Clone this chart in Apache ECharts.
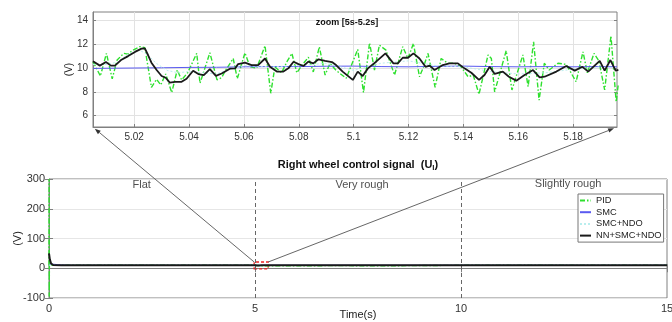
<!DOCTYPE html>
<html><head><meta charset="utf-8">
<script src="https://cdn.jsdelivr.net/npm/echarts@6/dist/echarts.min.js"></script>
<style>html,body{margin:0;padding:0;background:#fff}#c{width:672px;height:322px}</style>
</head><body><div id="c"></div>
<script>
// ---------------- data ----------------
const seriesNames = ['PID', 'SMC', 'SMC+NDO', 'NN+SMC+NDO'];
const mainTitle = 'Right wheel control signal  (U';
const mainTitleSub = 'l';
const insetTitle = 'zoom [5s-5.2s]';
const xName = 'Time(s)';
const yName = '(V)';
const regionNames = ['Flat', 'Very rough', 'Slightly rough'];
const regionX = [2.25, 7.6, 12.6];
const regionY = [280, 280, 282];
const separators = [5, 10];
const zoomRect = [4.98, -2, 5.32, 21];      // x0, y0, x1, y1 (data units)
const insetXTicks = [5.02, 5.04, 5.06, 5.08, 5.1, 5.12, 5.14, 5.16, 5.18];
const insetYTicks = [6, 8, 10, 12, 14];
const insetXRange = [5.005, 5.196];
const insetYRange = [5.05, 14.7];

// zoomed window values [t, V]
const pidZoom = [[5.005,10.53],[5.0077,9.33],[5.0099,11.23],[5.012,9.1],[5.0138,10.67],[5.0162,11.23],[5.0177,11.17],[5.0196,11.5],[5.0221,11.79],[5.0239,11.7],[5.0263,8.38],[5.0282,9.05],[5.0297,8.58],[5.0315,9.5],[5.0337,7.94],[5.0357,9.83],[5.0373,9.0],[5.0395,9.6],[5.0428,11.23],[5.044,8.72],[5.0476,11.28],[5.0502,9.0],[5.0519,9.2],[5.0536,9.9],[5.0561,10.8],[5.0576,9.1],[5.0604,11.28],[5.0622,10.1],[5.0647,10.0],[5.0677,11.87],[5.0698,7.88],[5.0713,10.1],[5.0737,9.6],[5.0757,10.53],[5.0775,11.23],[5.0793,9.6],[5.0812,10.25],[5.0835,10.9],[5.0853,9.67],[5.0875,11.78],[5.0896,9.41],[5.0914,10.4],[5.0936,9.8],[5.0973,9.14],[5.1015,11.56],[5.1036,7.94],[5.1058,12.12],[5.1076,9.83],[5.1094,11.92],[5.1118,11.5],[5.1149,9.41],[5.1179,11.79],[5.1198,10.8],[5.1218,12.06],[5.124,9.27],[5.1255,10.1],[5.1271,11.23],[5.1297,8.38],[5.1319,10.8],[5.1344,10.39],[5.1368,10.4],[5.1392,10.1],[5.1417,9.27],[5.1436,9.4],[5.1457,7.8],[5.149,11.1],[5.1502,10.8],[5.1514,8.0],[5.1556,11.45],[5.1577,8.16],[5.1617,11.1],[5.1636,8.44],[5.1656,12.2],[5.1676,7.3],[5.1695,10.4],[5.1713,9.83],[5.1745,10.4],[5.1775,10.3],[5.1811,8.85],[5.1836,11.36],[5.1852,9.6],[5.1876,11.23],[5.1894,10.6],[5.1915,8.16],[5.1938,12.7],[5.1957,7.15],[5.1965,8.7]];
const smcZoom = [[5.005,9.97],[5.02,10.0],[5.03,10.02],[5.04,10.05],[5.05,10.06],[5.06,10.1],[5.07,10.12],[5.08,10.12],[5.09,10.15],[5.1,10.16],[5.11,10.12],[5.12,10.1],[5.13,10.14],[5.14,10.16],[5.15,10.12],[5.16,10.1],[5.17,10.12],[5.18,10.1],[5.19,10.12],[5.196,10.1]];
const smcNdoZoom = [[5.005,10.3],[5.01,10.3],[5.014,10.5],[5.018,11.2],[5.022,11.5],[5.025,11.1],[5.028,10.4],[5.032,9.8],[5.036,9.6],[5.04,9.7],[5.045,9.6],[5.05,9.5],[5.055,9.9],[5.06,10.2],[5.07,10.1],[5.08,10.2],[5.09,10.4],[5.1,9.8],[5.11,10.4],[5.12,10.6],[5.13,10.2],[5.14,10.1],[5.15,9.7],[5.16,9.5],[5.17,9.6],[5.18,9.9],[5.19,10.1],[5.196,10.0]];
const nnZoom = [[5.005,10.57],[5.0075,10.2],[5.0097,10.5],[5.0115,10.2],[5.013,10.2],[5.0154,10.7],[5.0178,11.0],[5.0203,11.35],[5.0227,11.63],[5.0239,11.65],[5.0251,11.07],[5.0263,10.45],[5.0282,9.83],[5.03,9.33],[5.0315,9.18],[5.033,8.77],[5.0349,8.84],[5.0373,8.84],[5.0391,9.1],[5.0415,9.77],[5.0434,9.49],[5.0454,9.4],[5.0476,9.9],[5.0498,9.34],[5.0519,9.54],[5.0549,9.94],[5.0568,9.97],[5.0579,10.33],[5.0604,10.45],[5.0628,10.25],[5.0652,10.25],[5.0677,10.8],[5.0695,10.1],[5.072,9.7],[5.0744,9.7],[5.0762,9.97],[5.0781,10.53],[5.0799,10.33],[5.0817,10.17],[5.0835,10.53],[5.0853,10.39],[5.0872,10.73],[5.0896,10.59],[5.0921,10.5],[5.0936,10.25],[5.096,9.7],[5.0997,9.0],[5.1015,9.7],[5.1033,9.33],[5.1052,9.97],[5.1082,10.53],[5.1116,11.23],[5.1145,10.39],[5.1161,10.39],[5.1179,10.86],[5.1198,10.86],[5.1218,11.23],[5.124,10.8],[5.1262,10.1],[5.1277,10.2],[5.1295,9.83],[5.1325,10.25],[5.1349,10.39],[5.138,10.39],[5.1404,9.97],[5.1429,9.6],[5.1457,9.0],[5.1477,9.41],[5.1496,10.1],[5.1514,9.5],[5.1544,9.7],[5.1566,9.27],[5.1593,8.94],[5.1623,9.41],[5.1654,9.83],[5.1678,9.22],[5.1696,9.27],[5.1739,9.7],[5.1775,10.17],[5.1806,9.78],[5.1834,10.1],[5.1855,9.7],[5.1897,10.6],[5.1915,9.78],[5.1936,10.67],[5.1955,9.78],[5.1965,9.85]];

// full-run values outside the zoomed window
const pidStart = [[0,10],[0.003,300],[0.006,-95],[0.01,30],[0.02,10],[1,10],[3,10],[5.0,10]];
const pidEnd = [[5.21,10],[6,8],[7,9],[8,8],[9,9],[10,10],[12,10],[15,10]];
const smcStart = [[0,10],[0.05,14],[0.15,13],[0.3,11],[0.5,10],[5.0,10]];
const smcEnd = [[5.21,10.1],[10,10.1],[15,10.1]];
const smcNdoStart = [[0,10],[0.05,12],[0.2,10],[5.0,10]];
const smcNdoEnd = [[5.21,10],[10,10],[15,10]];
const nnStart = [[0,50],[0.02,30],[0.05,16],[0.1,11],[0.3,10],[5.0,10]];
const nnEnd = [[5.21,10],[10,10],[15,10]];

// ---------------- chart ----------------
const FONT = "'Liberation Sans', Arial, sans-serif";
const colors = ['#2ee02e', '#5a5af0', '#b9eeee', '#1a1a1a'];
const widths = [1.4, 1, 1, 1.8];
const types = [[5, 2, 1.5, 2], 'solid', [2, 2], 'solid'];
const zoomData = [pidZoom, smcZoom, smcNdoZoom, nnZoom];
const mainData = [
  pidStart.concat(pidZoom, pidEnd),
  smcStart.concat(smcZoom, smcEnd),
  smcNdoStart.concat(smcNdoZoom, smcNdoEnd),
  nnStart.concat(nnZoom, nnEnd)
];

const chart = echarts.init(document.getElementById('c'), null, { renderer: 'canvas' });
const axisCol = '#808080';
const labelStyle = { color: '#333', fontFamily: FONT };

const series = [];
seriesNames.forEach((n, i) => {
  series.push({
    name: n, type: 'line', xAxisIndex: 0, yAxisIndex: 0, symbol: 'none', silent: true,
    data: mainData[i], animation: false,
    lineStyle: { color: colors[i], width: i === 3 ? 2 : widths[i], type: types[i] },
    itemStyle: { color: colors[i] },
    z: 2 + i
  });
});
// separators, zoom box, region labels
series[0].markLine = {
  silent: true, symbol: ['none', 'none'], label: { show: false },
  lineStyle: { color: '#666', type: [4, 3], width: 1 },
  data: separators.map(v => ({ xAxis: v })), animation: false
};
series[3].markArea = {
  silent: true,
  itemStyle: { color: 'rgba(0,0,0,0)', borderColor: '#ee2020', borderType: [3, 2], borderWidth: 1.3 },
  data: [[{ coord: [zoomRect[0], zoomRect[1]] }, { coord: [zoomRect[2], zoomRect[3]] }]],
  animation: false
};
series.push({
  type: 'scatter', xAxisIndex: 0, yAxisIndex: 0, symbolSize: 0, silent: true, animation: false,
  data: regionNames.map((n, i) => [regionX[i], regionY[i], n]),
  label: { show: true, position: 'inside', formatter: p => p.data[2], fontSize: 11, color: '#222', fontFamily: FONT }
});
seriesNames.forEach((n, i) => {
  series.push({
    name: n, type: 'line', xAxisIndex: 2, yAxisIndex: 2, symbol: 'none', silent: true,
    data: zoomData[i], animation: false,
    lineStyle: { color: colors[i], width: widths[i], type: types[i] },
    itemStyle: { color: colors[i] },
    z: 2 + i
  });
});

const option = {
  animation: false,
  backgroundColor: '#fff',
  textStyle: { fontFamily: FONT },
  grid: [
    { left: 49, right: 5, top: 179, bottom: 24, show: true, borderColor: axisCol, borderWidth: 1, backgroundColor: '#fff', outerBoundsMode: 'none', containLabel: false },
    { left: 93, right: 55, top: 12, bottom: 195, show: true, borderColor: axisCol, borderWidth: 1, backgroundColor: '#fff', outerBoundsMode: 'none', containLabel: false }
  ],
  xAxis: [
    { type: 'value', gridIndex: 0, min: 0, max: 15, interval: 5,
      axisLine: { show: true, lineStyle: { color: axisCol } },
      axisTick: { show: true, inside: true, length: 4, lineStyle: { color: axisCol } },
      axisLabel: Object.assign({ fontSize: 11, margin: 5 }, labelStyle),
      splitLine: { show: false },
      name: xName, nameLocation: 'middle', nameGap: 11, nameMoveOverlap: false,
      nameTextStyle: { fontSize: 11, color: '#222', fontFamily: FONT } },
    { type: 'value', gridIndex: 0, position: 'top', min: 0, max: 15, interval: 5,
      axisLine: { show: false }, axisLabel: { show: false }, splitLine: { show: false },
      axisTick: { show: true, inside: true, length: 4, lineStyle: { color: axisCol } } },
    { type: 'value', gridIndex: 1, min: insetXRange[0], max: insetXRange[1],
      axisLine: { show: true, lineStyle: { color: axisCol } },
      axisTick: { show: true, inside: true, length: 3, customValues: insetXTicks, lineStyle: { color: axisCol } },
      axisLabel: Object.assign({ fontSize: 10, margin: 5, customValues: insetXTicks, formatter: v => String(+v.toFixed(2)) }, labelStyle),
      splitLine: { show: true, lineStyle: { color: '#e2e2e2' } } }
  ],
  yAxis: [
    { type: 'value', gridIndex: 0, min: -100, max: 300, interval: 100,
      axisLine: { show: true, lineStyle: { color: axisCol } },
      axisTick: { show: true, inside: true, length: 4, lineStyle: { color: axisCol } },
      axisLabel: Object.assign({ fontSize: 11, margin: 4 }, labelStyle),
      splitLine: { show: true, lineStyle: { color: '#e6e6e6' } },
      name: yName, nameLocation: 'middle', nameGap: 26, nameRotate: 90, nameMoveOverlap: false,
      nameTextStyle: { fontSize: 11, color: '#222', fontFamily: FONT } },
    { type: 'value', gridIndex: 0, position: 'right', min: -100, max: 300, interval: 100,
      axisLine: { show: false }, axisLabel: { show: false }, splitLine: { show: false },
      axisTick: { show: true, inside: true, length: 4, lineStyle: { color: axisCol } } },
    { type: 'value', gridIndex: 1, min: insetYRange[0], max: insetYRange[1],
      axisLine: { show: true, lineStyle: { color: axisCol } },
      axisTick: { show: true, inside: true, length: 3, customValues: insetYTicks, lineStyle: { color: axisCol } },
      axisLabel: Object.assign({ fontSize: 10, margin: 5, customValues: insetYTicks }, labelStyle),
      splitLine: { show: true, lineStyle: { color: '#e2e2e2' } },
      name: yName, nameLocation: 'middle', nameGap: 19, nameRotate: 90, nameMoveOverlap: false,
      nameTextStyle: { fontSize: 10, color: '#222', fontFamily: FONT } },
    { type: 'value', gridIndex: 1, position: 'right', min: insetYRange[0], max: insetYRange[1],
      axisLine: { show: false }, axisLabel: { show: false }, splitLine: { show: false },
      axisTick: { show: true, inside: true, length: 3, customValues: insetYTicks, lineStyle: { color: axisCol } } }
  ],
  legend: {
    data: seriesNames, orient: 'vertical', left: 578, top: 194,
    itemWidth: 11, itemHeight: 11, itemGap: 0.7, padding: [1, 2, 1, 1],
    borderColor: '#777', borderWidth: 1, backgroundColor: '#fff',
    itemStyle: { opacity: 0 },
    textStyle: { fontSize: 9.3, color: '#222', fontFamily: FONT, lineHeight: 11 },
    selectedMode: false
  },
  series: series
};
chart.setOption(option);

// annotations: titles, connector lines with arrows
const pMainTL = chart.convertToPixel({ gridIndex: 0 }, [zoomRect[0], zoomRect[3]]);
const pMainTR = chart.convertToPixel({ gridIndex: 0 }, [zoomRect[2], zoomRect[3]]);
const pInsBL = chart.convertToPixel({ gridIndex: 1 }, [insetXRange[0], insetYRange[0]]);
const pInsBR = chart.convertToPixel({ gridIndex: 1 }, [insetXRange[1], insetYRange[0]]);
const pMainC = chart.convertToPixel({ gridIndex: 0 }, [7.5, 300]);
const pInsC = chart.convertToPixel({ gridIndex: 1 }, [(insetXRange[0] + insetXRange[1]) / 2, insetYRange[1]]);

function arrow(from, to) {
  const dx = to[0] - from[0], dy = to[1] - from[1];
  const L = Math.hypot(dx, dy), ux = dx / L, uy = dy / L;
  const tip = [to[0] - ux * 1, to[1] - uy * 1];
  const base = [tip[0] - ux * 6, tip[1] - uy * 6];
  const px = -uy * 2.2, py = ux * 2.2;
  return [
    { type: 'line', shape: { x1: from[0], y1: from[1], x2: base[0], y2: base[1] }, style: { stroke: '#555', lineWidth: 0.9 }, z: 50, silent: true },
    { type: 'polygon', shape: { points: [tip, [base[0] + px, base[1] + py], [base[0] - px, base[1] - py]] }, style: { fill: '#333' }, z: 50, silent: true }
  ];
}

chart.setOption({
  graphic: [
    ...arrow(pMainTL, [pInsBL[0] + 1, pInsBL[1] + 1]),
    ...arrow(pMainTR, [pInsBR[0] - 2, pInsBR[1] + 1]),
    { type: 'text', x: pMainC[0], y: pMainC[1] - 14, z: 60, silent: true,
      style: { text: '{b|' + mainTitle + '}{s|' + mainTitleSub + '}{b|)}', align: 'center', verticalAlign: 'middle',
        rich: { b: { fontSize: 11, fontWeight: 'bold', fontFamily: FONT, fill: '#111', color: '#111' },
                s: { fontSize: 8, fontWeight: 'bold', fontFamily: FONT, fill: '#111', color: '#111', padding: [6, 0, 0, 0] } } } },
    { type: 'text', x: pInsC[0] - 8, y: pInsC[1] + 11, z: 60, silent: true,
      style: { text: insetTitle, align: 'center', verticalAlign: 'middle', font: 'bold 9px ' + FONT, fill: '#111' } }
  ]
});
</script></body></html>
